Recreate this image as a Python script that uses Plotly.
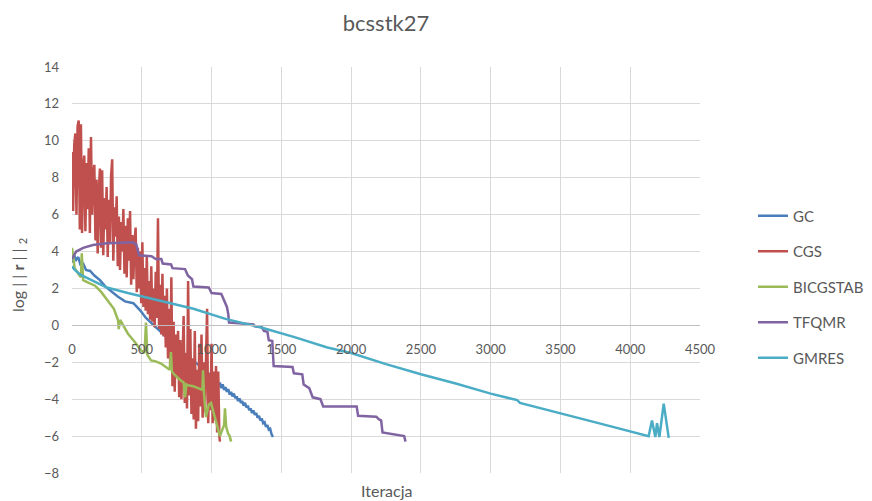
import plotly.graph_objects as go

# ---------------- data ----------------
gc_x = [0, 15, 30, 45, 60, 80, 100, 130, 160, 200, 240, 280, 330, 380, 440, 490, 530,
        600, 700, 800, 900, 1000, 1040, 1050, 1060, 1070, 1080, 1090, 1100, 1110, 1120, 1130,
        1140, 1150, 1160, 1170, 1180, 1190, 1200, 1210, 1220, 1230, 1240, 1250, 1260, 1270,
        1280, 1290, 1300, 1310, 1320, 1330, 1340, 1350, 1360, 1370, 1380, 1390, 1400, 1410,
        1420, 1430, 1440]
gc_y = [3.4, 3.8, 3.55, 3.7, 3.3, 3.35, 3.0, 2.95, 2.7, 2.45, 2.1, 1.85, 1.55, 1.3, 1.2, 0.8, 0.4,
        -0.1, -0.8, -1.5, -2.1, -2.75, -3.0, -3.3, -3.1, -3.4, -3.2, -3.5, -3.35, -3.6, -3.45,
        -3.75, -3.6, -3.85, -3.7, -3.95, -3.85, -4.1, -3.95, -4.2, -4.1, -4.35, -4.2, -4.45,
        -4.35, -4.6, -4.5, -4.75, -4.6, -4.85, -4.75, -5.0, -4.9, -5.15, -5.05, -5.3, -5.25,
        -5.5, -5.4, -5.65, -5.6, -5.9, -6.05]

cgs_x = [0, 8, 16, 24, 32, 40, 48, 56, 64, 72, 80, 88, 96, 104, 112, 120, 128, 136, 144, 152,
         160, 168, 176, 184, 192, 200, 208, 216, 224, 232, 240, 248, 256, 264, 272, 280, 288, 296,
         304, 312, 320, 328, 336, 344, 352, 360, 368, 376, 384, 392, 400, 408, 416, 424, 432, 440,
         448, 456, 464, 472, 480, 488, 496, 504, 512, 520, 528, 536, 544, 552, 560, 568, 576, 584,
         592, 600, 608, 616, 624, 632, 640, 648, 656, 664, 672, 680, 688, 696, 704, 712, 720, 728,
         736, 744, 752, 760, 768, 776, 784, 792, 800, 808, 816, 824, 832, 840, 848, 856, 864, 872,
         880, 888, 896, 904, 912, 920, 928, 936, 944, 952, 960, 968, 976, 984, 992, 1000, 1008,
         1016, 1024, 1032, 1040, 1048, 1056, 1060]
cgs_y = [9.4, 6.2, 9.8, 10.4, 6.0, 10.8, 11.1, 5.2, 10.9, 5.0, 8.6, 9.2, 5.1, 8.8, 6.3, 9.6, 5.0,
         10.2, 6.0, 8.2, 8.7, 4.6, 7.9, 3.9, 7.2, 8.5, 4.2, 8.4, 3.8, 6.9, 5.2, 7.5, 3.7, 6.8, 4.4,
         8.1, 9.0, 3.5, 6.4, 4.8, 7.0, 3.2, 5.9, 3.0, 5.6, 4.0, 6.3, 2.8, 5.4, 2.6, 5.8, 3.5, 6.2,
         2.2, 4.9, 2.5, 4.6, 5.3, 1.8, 4.2, 2.0, 4.0, 1.2, 4.5, 1.0, 3.1, 0.8, 3.8, 0.6, 2.4, 0.3,
         3.2, 0.2, 2.0, -0.1, 2.9, 0.4, 5.8, -0.2, 2.2, -0.5, 2.8, -0.6, 1.6, -1.2, 2.0, -1.8, 0.9,
         -2.2, 2.6, -3.3, 0.2, -3.6, -0.5, -2.8, -0.3, -3.9, -0.8, -4.0, -1.2, 0.5, -4.2, -1.5,
         -4.5, 2.4, -3.8, -0.2, -4.8, -1.8, -5.1, -0.3, -5.6, -2.4, -5.2, -1.0, -4.4, -0.5, -5.0,
         -2.0, -4.7, -1.4, 0.9, -5.3, -2.6, -4.6, -1.0, -5.3, -2.5, -5.0, -2.2, -5.8, -2.5, -6.0,
         -6.3]

bicg_x = [0, 19, 45, 64, 70, 80, 120, 165, 210, 258, 300, 330, 335, 345, 401, 450, 494, 520,
          530, 540, 566, 600, 638, 700, 709, 716, 738, 781, 800, 810, 820, 831, 870, 903, 935,
          939, 945, 960, 980, 996, 1010, 1025, 1060, 1090, 1096, 1105, 1118, 1130, 1140]
bicg_y = [4.2, 3.1, 2.8, 2.6, 3.9, 2.45, 2.3, 2.15, 1.8, 1.35, 0.9, 0.27, -0.2, 0.3, -0.45,
          -0.9, -1.35, -1.5, 0.15, -1.6, -1.9, -1.95, -2.07, -2.4, -1.45, -2.5, -2.7, -3.0,
          -3.1, -3.9, -3.2, -3.25, -3.3, -3.4, -3.5, -2.43, -3.6, -4.97, -4.3, -4.2, -4.6, -5.1,
          -6.0, -5.4, -4.5, -5.5, -5.85, -6.0, -6.3]

tfqmr_x = [0, 30, 80, 150, 250, 350, 430, 460, 480, 570, 600, 640, 650, 710, 720, 810, 830,
           860, 870, 980, 1000, 1070, 1090, 1110, 1120, 1125, 1200, 1300, 1310, 1360, 1375, 1400,
           1410, 1435, 1445, 1580, 1590, 1650, 1660, 1700, 1725, 1780, 1800, 2040, 2050, 2180,
           2200, 2215, 2225, 2300, 2380, 2390]
tfqmr_y = [3.6, 4.0, 4.2, 4.35, 4.45, 4.5, 4.5, 4.4, 3.8, 3.75, 3.6, 3.6, 3.35, 3.3, 3.1, 3.05,
           2.7, 2.5, 2.1, 2.05, 1.75, 1.7, 1.3, 1.0, 0.6, 0.15, 0.12, 0.05, -0.05, -0.1, -0.3,
           -0.35, -0.8, -0.85, -2.2, -2.25, -2.6, -2.65, -3.2, -3.4, -3.9, -4.0, -4.4, -4.4, -4.9,
           -4.95, -5.1, -5.15, -5.8, -5.9, -6.0, -6.3]

gmres_x = [0, 20, 60, 150, 250, 400, 600, 870, 1100, 1350, 1600, 1830, 2000, 2250, 2500, 2750,
           3000, 3190, 3210, 3500, 3800, 4132, 4156, 4180, 4192, 4209, 4240, 4276]
gmres_y = [3.2, 3.0, 2.75, 2.4, 2.05, 1.75, 1.4, 0.9, 0.35, -0.1, -0.65, -1.2, -1.5, -2.1,
           -2.65, -3.15, -3.7, -4.05, -4.2, -4.75, -5.35, -6.0, -5.15, -6.05, -5.3, -6.05,
           -4.24, -6.1]

series_names = ["GC", "CGS", "BICGSTAB", "TFQMR", "GMRES"]
series_x = [gc_x, cgs_x, bicg_x, tfqmr_x, gmres_x]
series_y = [gc_y, cgs_y, bicg_y, tfqmr_y, gmres_y]
series_colors = ["#4A7EBB", "#C0504D", "#9BBB59", "#8064A2", "#4BACC6"]

x_ticks = [0, 500, 1000, 1500, 2000, 2500, 3000, 3500, 4000, 4500]
y_ticks = [14, 12, 10, 8, 6, 4, 2, 0, -2, -4, -6, -8]

# ---------------- figure ----------------
FONT = "Lato, 'Open Sans', sans-serif"
GREY = "#595959"

fig = go.Figure()
for name, xs, ys, col in zip(series_names, series_x, series_y, series_colors):
    fig.add_trace(go.Scatter(x=xs, y=ys, mode="lines", name=name, legendgroup=name,
                             line=dict(color=col, width=2.5)))

y_min, y_max = -8, 14
fig.update_layout(
    width=872, height=501,
    margin=dict(l=72, r=172, t=67, b=28, autoexpand=False),
    paper_bgcolor="white", plot_bgcolor="white",
    font=dict(family=FONT, color=GREY, size=13),
    title=dict(text="bcsstk27", x=0.5, xref="paper", xanchor="center",
               y=1 - 23 / 501, yref="container", yanchor="middle",
               font=dict(size=22, color=GREY, family=FONT)),
    showlegend=True,
    legend=dict(x=(753 - 72) / 628, xanchor="left", y=(473 - 287) / 406, yanchor="middle",
                font=dict(size=15, color=GREY, family=FONT), tracegroupgap=13,
                bgcolor="rgba(0,0,0,0)"),
    xaxis=dict(range=[0, 4500], tickvals=x_ticks, showgrid=True, gridcolor="#D9D9D9",
               gridwidth=1, zeroline=False, anchor="free",
               position=(0 - y_min) / (y_max - y_min), showline=True,
               linecolor="#BFBFBF", linewidth=1, ticks="", ticklabelstandoff=12,
               tickfont=dict(size=13, color=GREY)),
    yaxis=dict(range=[y_min, y_max], tickvals=y_ticks, showgrid=True, gridcolor="#D9D9D9",
               gridwidth=1, zeroline=False, showline=False, ticks="",
               ticklabelstandoff=12, tickfont=dict(size=13, color=GREY)),
    annotations=[
        dict(text="Iteracja", xref="paper", yref="paper", x=0.5, y=(473 - 490) / 406,
             xanchor="center", yanchor="middle", showarrow=False,
             font=dict(size=16, color=GREY, family=FONT)),
        dict(text="log | | <b>r</b> | | <sub>2</sub>", xref="paper", yref="paper",
             x=(18 - 72) / 628, y=(473 - 275) / 406, xanchor="center", yanchor="middle",
             textangle=-90, showarrow=False, font=dict(size=16, color=GREY, family=FONT)),
    ],
)

fig.write_html("out.html")
